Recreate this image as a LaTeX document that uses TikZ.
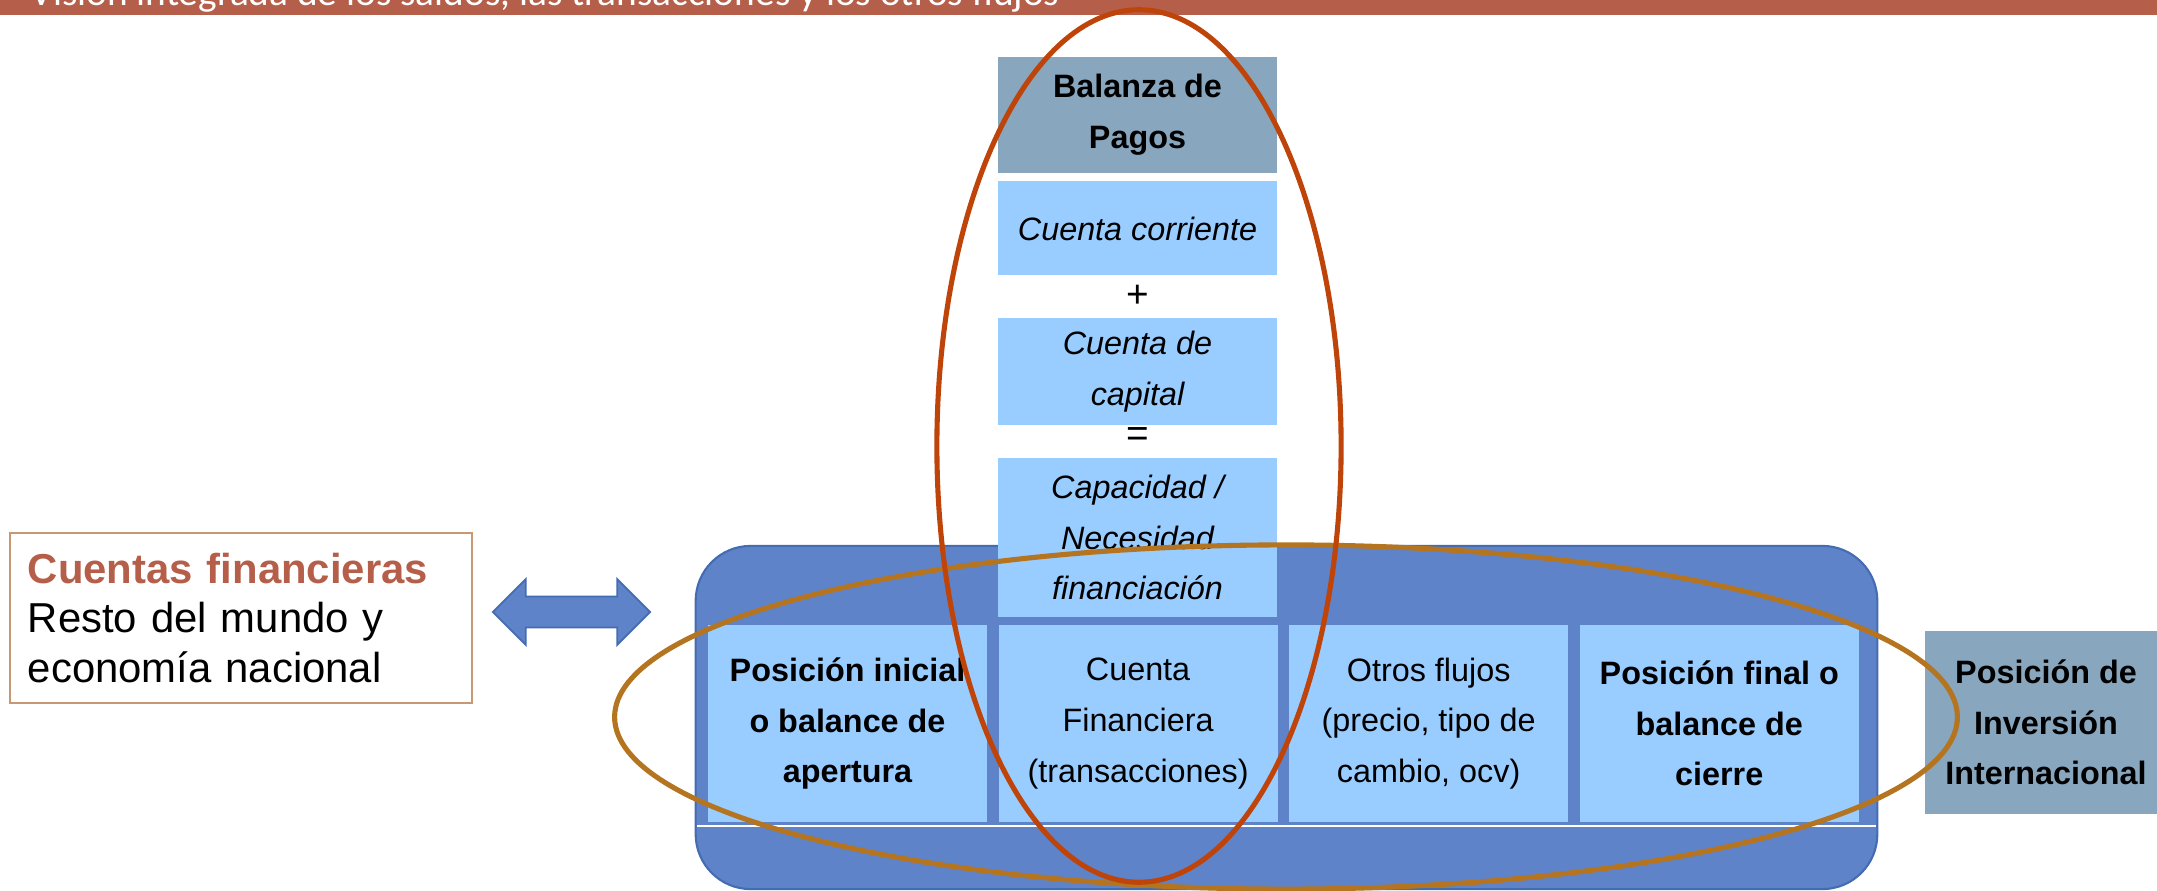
\documentclass[tikz,border=0pt]{standalone}
\usepackage{fontspec}
\setmainfont{Liberation Sans}
\newfontfamily\bannerfont{Carlito}
\usetikzlibrary{positioning,shapes.arrows}
\definecolor{br}{RGB}{181,95,74}
\definecolor{bf}{RGB}{95,131,200}
\definecolor{bd}{RGB}{68,108,178}
\definecolor{lb}{RGB}{153,204,255}
\definecolor{gb}{RGB}{136,166,190}
\definecolor{er}{RGB}{191,68,10}
\definecolor{eo}{RGB}{181,116,31}
\definecolor{tb}{RGB}{200,152,116}
\newcommand{\br}[1]{\textcolor{br}{#1}}
\newcommand{\cellsize}{\fontsize{9.2}{14.4}\selectfont}

\begin{document}
\begin{tikzpicture}[x=0.01cm,y=-0.01cm,
    cell/.style={fill=lb,minimum width=2.79cm,inner sep=0pt,align=center,font=\cellsize},
    cellit/.style={cell,font=\cellsize\itshape},
    cellbf/.style={cell,font=\cellsize\bfseries},
    head/.style={cellbf,fill=gb},
    sign/.style={inner sep=0pt,font=\fontsize{11}{12}\selectfont},
    ring/.style={line width=1.45pt}]
  \useasboundingbox (0,0) rectangle (2157,891);
  \clip (0,0) rectangle (2157,891);
  \fill[br] (0,0) rectangle (2157,14.7);
  \node[anchor=base west,inner sep=0pt,text=white,
    font=\bannerfont\fontsize{11.2}{12}\selectfont] (titulo) at (30,6)
    {Visión integrada de los saldos, las transacciones y los otros flujos};

  \node[draw=bd,fill=bf,line width=0.6pt,rounded corners=0.55cm,inner sep=0pt,
    minimum width=11.81cm,minimum height=3.43cm] (marco) at (1286.5,717.5) {};
  \draw[white,line width=0.5pt] (697,826) -- (1876,826);

  % balanza de pagos
  \node[head,minimum height=1.16cm] (balanza) at (1137.5,115) {Balanza de\\Pagos};
  \node[cellit,minimum height=0.94cm,below=0.07cm of balanza] (corriente) {Cuenta corriente};
  \node[sign] (mas) at (1137.5,296) {+};
  \node[cellit,minimum height=1.07cm,below=0.41cm of corriente] (capital) {Cuenta de\\capital};
  \node[sign] (igual) at (1137.5,437) {=};
  \node[cellit,minimum height=1.58cm,below=0.32cm of capital] (capacidad)
    {Capacidad /\\Necesidad\\financiación};

  % posiciones y flujos
  \node[cellbf,minimum height=1.97cm] (inicial) at (847.5,723.5)
    {Posición inicial\\o balance de\\apertura};
  \node[cell,minimum height=1.97cm,right=0.1cm of inicial] (financiera)
    {Cuenta\\Financiera\\(transacciones)};
  \node[cell,minimum height=1.97cm,right=0.1cm of financiera] (otros)
    {Otros flujos\\(precio, tipo de\\cambio, ocv)};
  \node[cellbf,minimum height=1.97cm,right=0.1cm of otros] (final)
    {Posición final o\\balance de\\cierre};
  \node[head,minimum width=2.42cm,minimum height=1.83cm] (inversion) at (2046,722.5)
    {Posición de\\Inversión\\Internacional};

  \node[draw=tb,line width=0.45pt,minimum height=1.70cm,inner xsep=0.18cm,
    text width=4.26cm,align=left,font=\fontsize{11.9}{14.2}\selectfont] (cuentas) at (241,618)
    {\textbf{\br{Cuentas financieras}}\\Resto del mundo y\\economía nacional};
  \node[double arrow,fill=bf,draw=bd,line width=0.5pt,inner xsep=0pt,inner ysep=0.145cm,
    minimum width=0.64cm,minimum height=1.57cm,double arrow head extend=0.175cm] (flecha)
    at (571.5,612) {};

  \draw[ring,eo] (1286,717) ellipse [x radius=6.71cm,y radius=1.72cm];
  \draw[ring,er] (1139,446) ellipse [x radius=2.02cm,y radius=4.36cm];
\end{tikzpicture}
\end{document}
